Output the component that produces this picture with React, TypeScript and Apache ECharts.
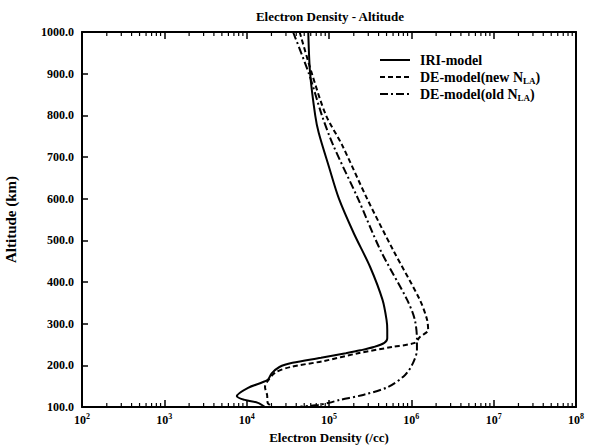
import React, { useEffect, useRef } from "react";
import * as echarts from "echarts";

const FONT = "'Liberation Serif', 'Times New Roman', serif";

// Altitude (km) and electron density (/cc)
const iriAlt = [1000, 900, 800, 758, 676, 600, 517, 436, 357, 309, 285, 265, 254, 244, 236, 229, 218, 206, 196, 180, 165, 146, 126, 117, 110, 100];
const iriDen = [5.6e4, 5.9e4, 6.8e4, 7.5e4, 1.0e5, 1.32e5, 2.0e5, 3.16e5, 4.47e5, 5.0e5, 5.1e5, 5.1e5, 4.7e5, 3.5e5, 2.4e5, 1.6e5, 8.0e4, 3.6e4, 2.5e4, 2.0e4, 1.8e4, 1.04e4, 7.6e3, 9.5e3, 1.37e4, 1.67e4];

const deNewAlt = [1000, 900, 800, 729, 600, 477, 357, 310, 285, 268, 254, 244, 229, 210, 196, 182, 160, 148, 129, 110, 100];
const deNewDen = [4.4e4, 6.2e4, 9.2e4, 1.44e5, 2.9e5, 6.0e5, 1.27e6, 1.55e6, 1.6e6, 1.27e6, 1.1e6, 5.8e5, 2.25e5, 8.5e4, 3.4e4, 2.2e4, 1.77e4, 1.67e4, 1.77e4, 1.8e4, 2.1e4];

const deOldAlt = [1000, 900, 800, 729, 600, 477, 357, 310, 261, 237, 206, 177, 148, 129, 117, 110, 105, 101];
const deOldDen = [3.66e4, 5.7e4, 8.2e4, 1.12e5, 2.25e5, 4.2e5, 8.9e5, 1.1e6, 1.17e6, 1.17e6, 1.05e6, 8.4e5, 5.2e5, 2.6e5, 1.35e5, 1.0e5, 7.4e4, 4.5e4];

const xTickExponents = [2, 3, 4, 5, 6, 7, 8];
const yTicks = [100, 200, 300, 400, 500, 600, 700, 800, 900, 1000];
const minorMultipliers = [2, 3, 4, 5, 6, 7, 8, 9];

const legendLabels = [
  ["IRI-model", "", ""],
  ["DE-model(new N", "LA", ")"],
  ["DE-model(old N", "LA", ")"],
];
const seriesNames = ["IRI-model", "DE-model(new N_LA)", "DE-model(old N_LA)"];
const dashTypes: any[] = ["solid", [5, 3], [8, 3, 2, 3]];

function pairs(den: number[], alt: number[]) {
  return den.map((d, i) => [d, alt[i]]);
}

export default function App() {
  const ref = useRef<HTMLDivElement>(null);
  useEffect(() => {
    if (!ref.current) return;
    document.body.style.margin = "0";
    document.body.style.overflow = "hidden";
    const chart = echarts.init(ref.current, null, { renderer: "svg" });
    const xMin = Math.pow(10, xTickExponents[0]);
    const xMax = Math.pow(10, xTickExponents[xTickExponents.length - 1]);
    const yMin = yTicks[0];
    const yMax = yTicks[yTicks.length - 1];
    const minorTicks: number[][] = [];
    for (let i = 0; i < xTickExponents.length - 1; i++) {
      for (const m of minorMultipliers) minorTicks.push([m * Math.pow(10, xTickExponents[i]), yMin]);
    }
    const labelRich = {
      b: { fontFamily: FONT, fontWeight: "bold", fontSize: 12, color: "#000", lineHeight: 14, verticalAlign: "bottom" },
      s: { fontFamily: FONT, fontWeight: "bold", fontSize: 8, color: "#000", lineHeight: 14, verticalAlign: "top", padding: [0, 0, 6, 0] },
    };
    const legRich = {
      t: { fontFamily: FONT, fontWeight: "bold", fontSize: 14, color: "#000" },
      sub: { fontFamily: FONT, fontWeight: "bold", fontSize: 9, color: "#000", padding: [7, 0, 0, 0] },
    };
    const legendGraphics: any[] = [];
    legendLabels.forEach((lab, i) => {
      const y = 60 + i * 17;
      legendGraphics.push({
        type: "line",
        shape: { x1: 380, y1: y, x2: 410, y2: y },
        style: { stroke: "#000", lineWidth: 2, lineDash: dashTypes[i] === "solid" ? null : dashTypes[i] },
      });
      const txt = lab[1] ? `{t|${lab[0]}}{sub|${lab[1]}}{t|${lab[2]}}` : `{t|${lab[0]}}`;
      legendGraphics.push({
        type: "text",
        x: 420,
        y: y,
        style: { text: txt, rich: legRich, verticalAlign: "middle", fill: "#000", font: `bold 14px ${FONT}` },
      });
    });
    chart.setOption({
      animation: false,
      backgroundColor: "#fff",
      grid: { left: 82, right: 21, top: 32, bottom: 41, outerBoundsMode: "none", containLabel: false },
      graphic: [
        {
          type: "text",
          x: 330,
          y: 16,
          style: { text: "Electron Density - Altitude", font: `bold 13px ${FONT}`, fill: "#000", textAlign: "center", verticalAlign: "middle" },
        },
        ...legendGraphics,
      ],
      xAxis: [
        {
          type: "log",
          logBase: 10,
          min: xMin,
          max: xMax,
          position: "bottom",
          name: "Electron Density (/cc)",
          nameLocation: "middle",
          nameGap: 24,
          nameTextStyle: { fontFamily: FONT, fontWeight: "bold", fontSize: 13, color: "#000" },
          axisLine: { lineStyle: { color: "#000", width: 2 } },
          axisTick: { inside: true, length: 7, lineStyle: { color: "#000", width: 1.5 } },
          splitLine: { show: false },
          axisLabel: {
            margin: 5,
            formatter: (v: number) => `{b|10}{s|${Math.round(Math.log10(v))}}`,
            rich: labelRich,
          },
        },
        {
          type: "log",
          logBase: 10,
          min: xMin,
          max: xMax,
          position: "top",
          axisLine: { lineStyle: { color: "#000", width: 2 } },
          axisTick: { inside: true, length: 7, lineStyle: { color: "#000", width: 1.5 } },
          axisLabel: { show: false },
          splitLine: { show: false },
        },
      ],
      yAxis: [
        {
          type: "value",
          min: yMin,
          max: yMax,
          interval: 100,
          name: "Altitude (km)",
          nameLocation: "middle",
          nameGap: 64,
          nameTextStyle: { fontFamily: FONT, fontWeight: "bold", fontSize: 15, color: "#000" },
          axisLine: { show: true, lineStyle: { color: "#000", width: 2 } },
          axisTick: { show: true, inside: true, length: 6, lineStyle: { color: "#000", width: 1.5 } },
          splitLine: { show: false },
          axisLabel: {
            margin: 8,
            formatter: (v: number) => v.toFixed(1),
            fontFamily: FONT,
            fontWeight: "bold",
            fontSize: 12,
            color: "#000",
          },
        },
        {
          type: "value",
          min: yMin,
          max: yMax,
          interval: 100,
          position: "right",
          axisLine: { show: true, lineStyle: { color: "#000", width: 2 } },
          axisTick: { show: false },
          axisLabel: { show: false },
          splitLine: { show: false },
        },
      ],
      series: [
        ...[ [iriDen, iriAlt], [deNewDen, deNewAlt], [deOldDen, deOldAlt] ].map((d, i) => ({
          name: seriesNames[i],
          type: "line",
          data: pairs(d[0], d[1]),
          showSymbol: false,
          symbol: "none",
          smooth: 0.3,
          lineStyle: { color: "#000", width: 2, type: dashTypes[i] },
          itemStyle: { color: "#000" },
        })),
        {
          name: "minor",
          type: "custom",
          data: minorTicks,
          encode: { x: 0, y: 1 },
          silent: true,
          renderItem: (params: any, api: any) => {
            const v = api.value(0);
            const b = api.coord([v, yMin]);
            const t = api.coord([v, yMax]);
            return {
              type: "group",
              children: [
                { type: "line", shape: { x1: b[0], y1: b[1], x2: b[0], y2: b[1] - 4 }, style: { stroke: "#000", lineWidth: 1.2 } },
                { type: "line", shape: { x1: t[0], y1: t[1], x2: t[0], y2: t[1] + 4 }, style: { stroke: "#000", lineWidth: 1.2 } },
              ],
            };
          },
        },
      ],
    });
    return () => chart.dispose();
  }, []);
  return <div ref={ref} style={{ width: 597, height: 448 }} />;
}
